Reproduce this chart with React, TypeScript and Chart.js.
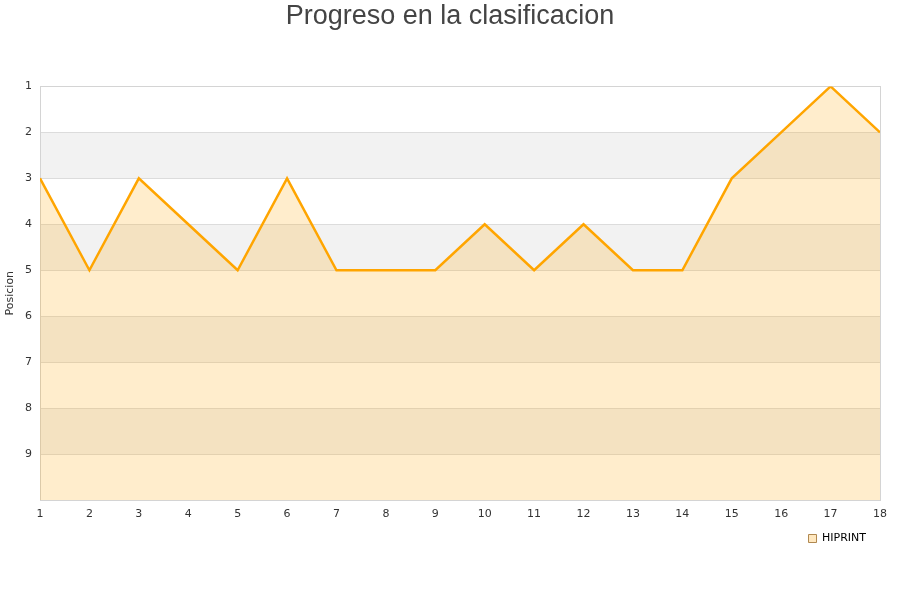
import React, { useEffect, useRef } from "react";
import { Chart, registerables } from "chart.js";

Chart.register(...registerables);

const jornadas: number[] = [1, 2, 3, 4, 5, 6, 7, 8, 9, 10, 11, 12, 13, 14, 15, 16, 17, 18];
const posiciones: number[] = [3, 5, 3, 4, 5, 3, 5, 5, 5, 4, 5, 4, 5, 5, 3, 2, 1, 2];
const yTicks: number[] = [1, 2, 3, 4, 5, 6, 7, 8, 9];
const equipo = "HIPRINT";
const titulo = "Progreso en la clasificacion";
const tituloEje = "Posicion";

// Alternating horizontal bands plus a frame around the plot area
const bandPlugin = {
  id: "bands",
  beforeDatasetsDraw(chart: any) {
    const { ctx, chartArea, scales } = chart;
    const y = scales.y;
    ctx.save();
    for (let v = 1; v < 10; v++) {
      if (v % 2 === 0) {
        const top = y.getPixelForValue(v);
        const bottom = y.getPixelForValue(v + 1);
        ctx.fillStyle = "#f2f2f2";
        ctx.fillRect(chartArea.left, top, chartArea.right - chartArea.left, bottom - top);
      }
    }
    ctx.strokeStyle = "#dcdcdc";
    ctx.lineWidth = 1;
    for (let v = 1; v <= 10; v++) {
      const py = Math.round(y.getPixelForValue(v)) + 0.5;
      ctx.beginPath();
      ctx.moveTo(chartArea.left, py);
      ctx.lineTo(chartArea.right, py);
      ctx.stroke();
    }
    ctx.strokeStyle = "#d4d4d4";
    ctx.strokeRect(
      Math.round(chartArea.left) + 0.5,
      Math.round(chartArea.top) + 0.5,
      Math.round(chartArea.right - chartArea.left),
      Math.round(chartArea.bottom - chartArea.top)
    );
    ctx.restore();
  },
};

export default function App() {
  const ref = useRef<HTMLCanvasElement | null>(null);

  useEffect(() => {
    document.body.style.margin = "0";
    const canvas = ref.current;
    if (!canvas) return;
    const chart = new Chart(canvas, {
      type: "line",
      data: {
        datasets: [
          {
            label: equipo,
            data: jornadas.map((j, i) => ({ x: j, y: posiciones[i] })),
            borderColor: "#ffa500",
            backgroundColor: "rgba(255, 165, 0, 0.2)",
            borderWidth: 2.5,
            pointRadius: 0,
            tension: 0,
            fill: { value: 10 },
          },
        ],
      },
      options: {
        animation: false,
        responsive: false,
        maintainAspectRatio: false,
        layout: { padding: { left: 0, right: 0, top: 0, bottom: 46 } },
        plugins: {
          title: {
            display: true,
            text: titulo,
            color: "#444444",
            font: { family: "'Liberation Sans', Arial, sans-serif", size: 27, weight: "normal" },
            padding: { top: 0, bottom: 54 },
          },
          legend: {
            position: "bottom",
            align: "end",
            fullSize: false,
            labels: {
              boxWidth: 8,
              boxHeight: 8,
              padding: 14,
              color: "#000000",
              font: { family: "'DejaVu Sans', sans-serif", size: 11 },
              generateLabels: () => [
                {
                  text: equipo,
                  fillStyle: "#ffe8c0",
                  strokeStyle: "#b08850",
                  lineWidth: 1,
                  datasetIndex: 0,
                },
              ],
            },
          },
          tooltip: { enabled: false },
        },
        scales: {
          x: {
            type: "linear",
            min: 1,
            max: 18,
            grid: { display: false, drawTicks: false },
            border: { color: "#d4d4d4" },
            ticks: {
              stepSize: 1,
              padding: 8,
              color: "#333333",
              font: { family: "'DejaVu Sans', sans-serif", size: 11 },
            },
            afterFit: (s: any) => {
              s.height = 19;
              s.paddingRight = 20;
            },
          },
          y: {
            type: "linear",
            reverse: true,
            min: 1,
            max: 10,
            grid: { display: false, drawTicks: false },
            border: { color: "#d4d4d4" },
            title: {
              display: true,
              text: tituloEje,
              color: "#333333",
              font: { family: "'DejaVu Sans', sans-serif", size: 11 },
              padding: { top: 4, bottom: 0 },
            },
            afterBuildTicks: (s: any) => {
              s.ticks = yTicks.map((v) => ({ value: v }));
            },
            ticks: {
              padding: 8,
              color: "#333333",
              font: { family: "'DejaVu Sans', sans-serif", size: 11 },
            },
            afterFit: (s: any) => {
              s.width = 40;
            },
          },
        },
      },
      plugins: [bandPlugin],
    });
    return () => chart.destroy();
  }, []);

  return (
    <div style={{ width: 900, height: 600 }}>
      <canvas ref={ref} width={900} height={600} style={{ display: "block" }} />
    </div>
  );
}
